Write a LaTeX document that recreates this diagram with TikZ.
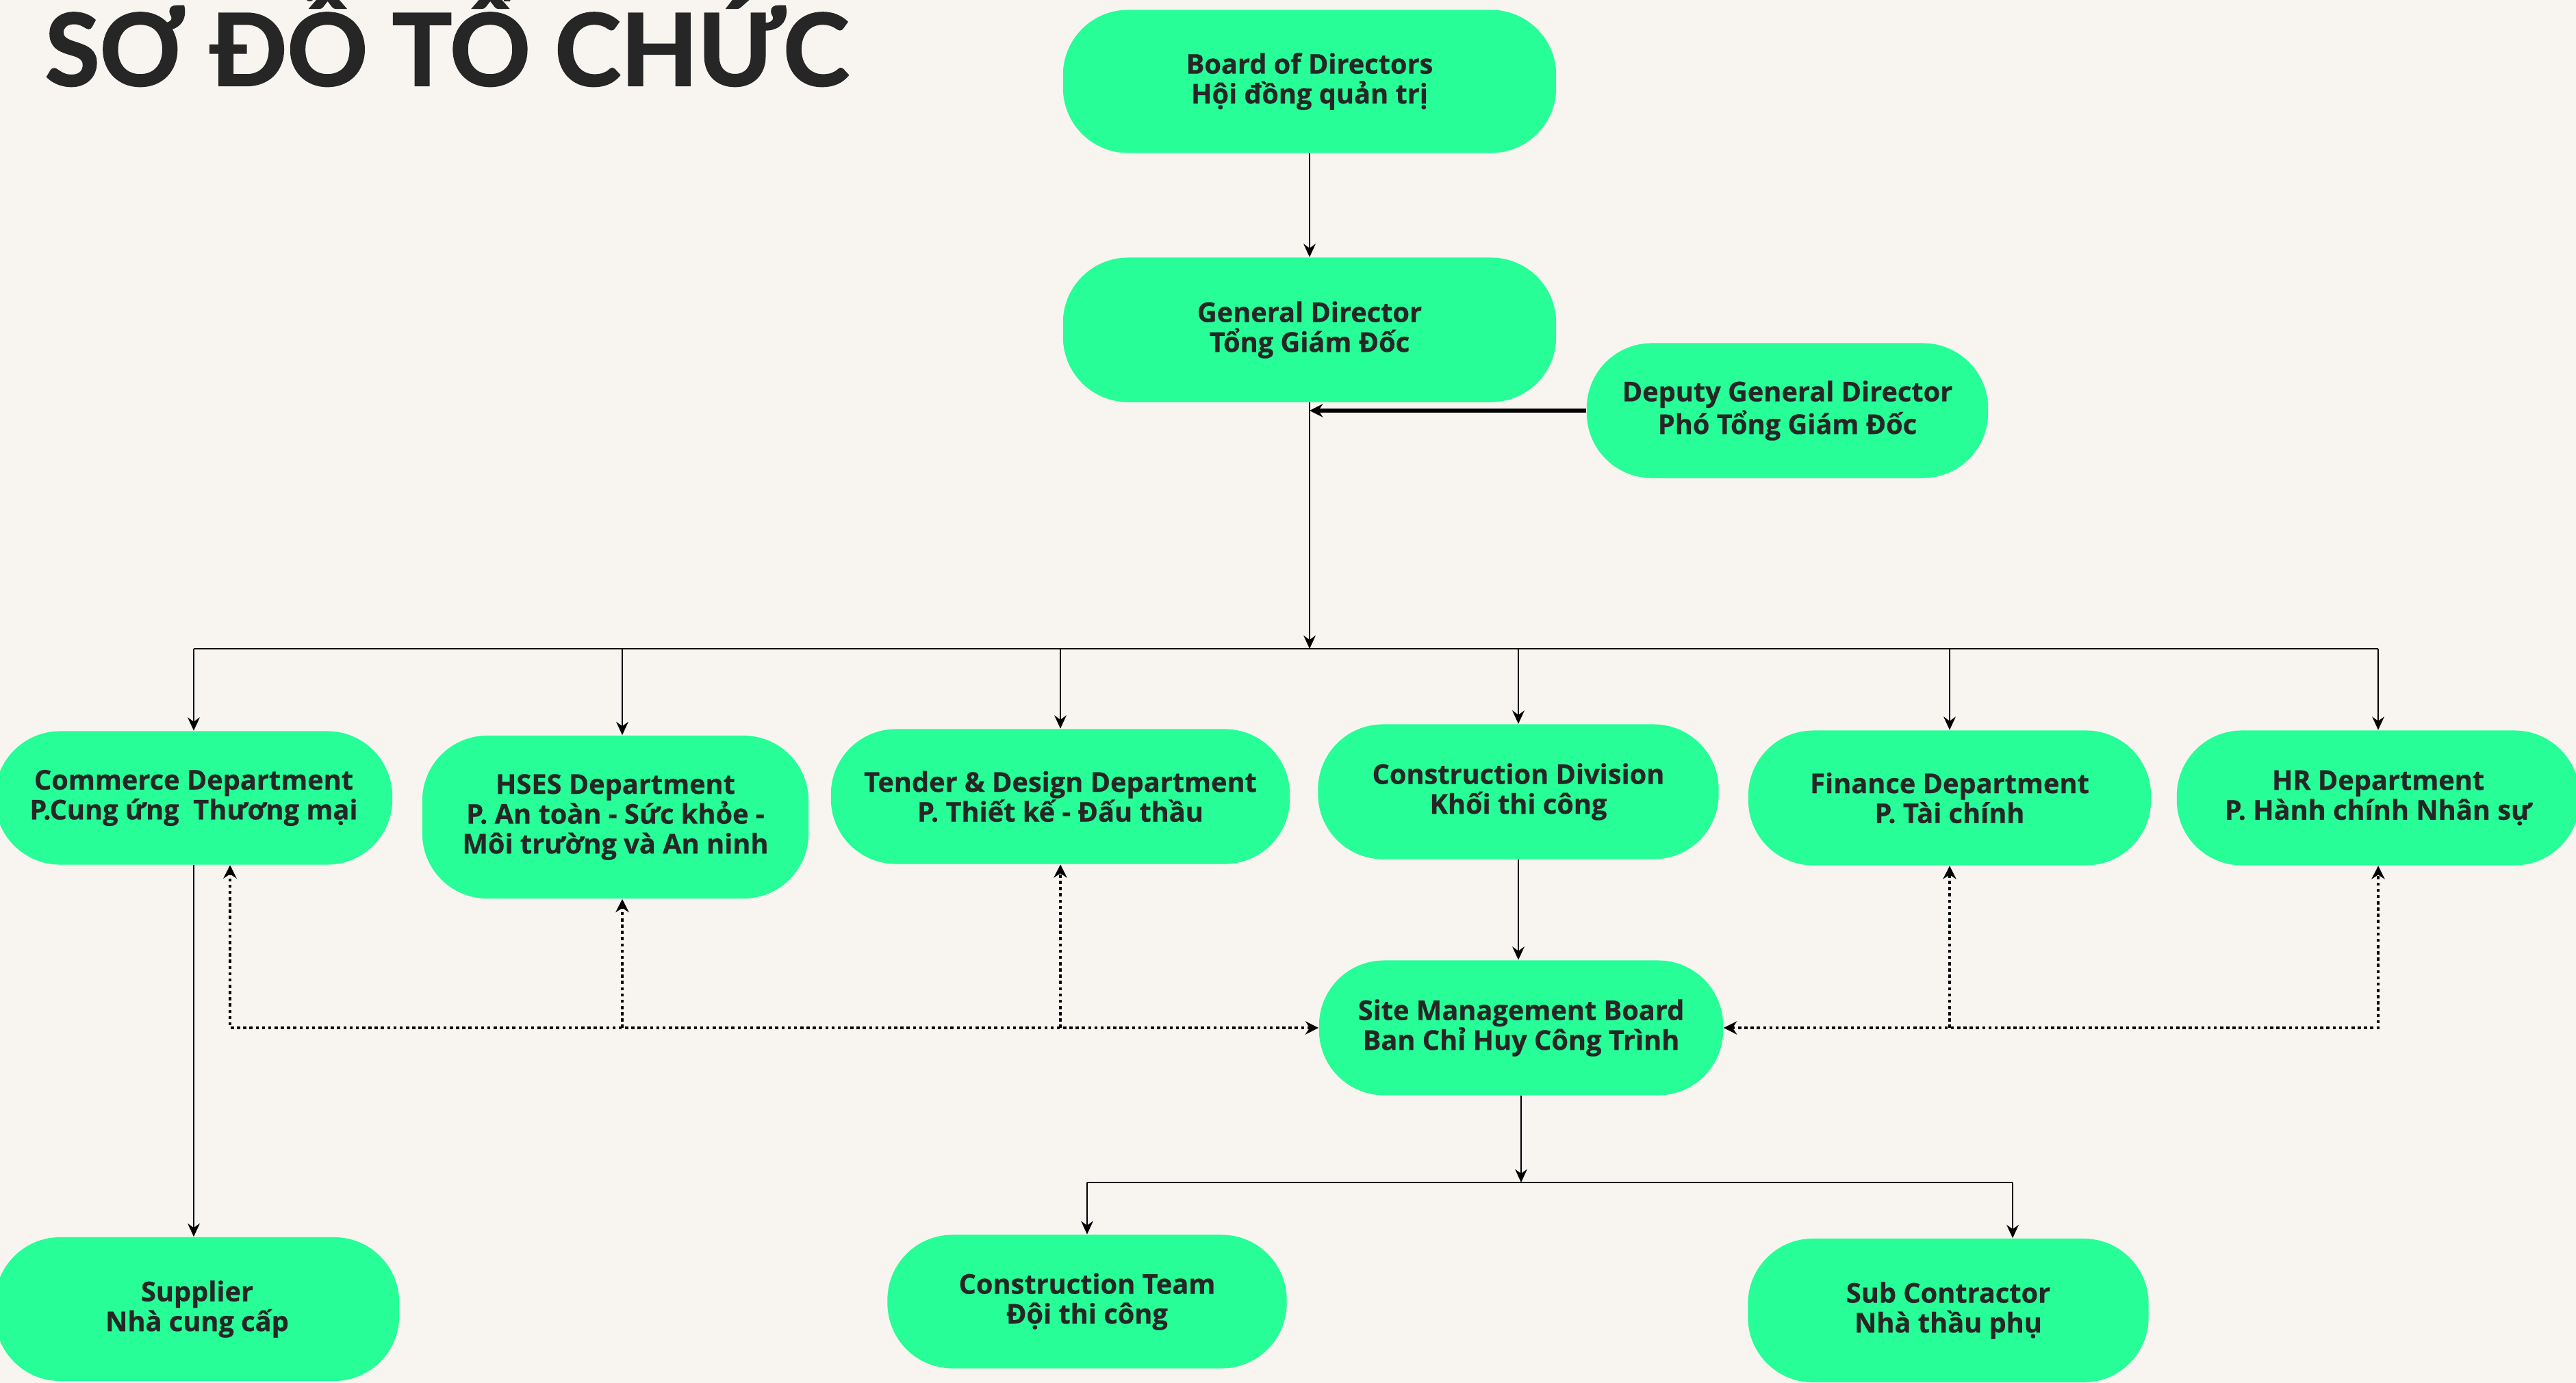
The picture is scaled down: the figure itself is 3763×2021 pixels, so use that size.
\documentclass[tikz,border=0pt]{standalone}
\usepackage{fontspec}
\setmainfont[BoldFeatures={FakeBold=0.6}]{Open Sans}
\newfontfamily\titlefont[BoldFeatures={FakeBold=1.6}]{Lato}
\usetikzlibrary{arrows.meta}
\definecolor{bgcol}{HTML}{F8F5F1}
\definecolor{boxgreen}{HTML}{27FE97}
\definecolor{inkcol}{HTML}{262626}
\tikzset{
  unit/.style={fill=boxgreen, rounded corners=0.95cm, minimum width=5.85cm,
    minimum height=1.97cm, align=center, inner sep=0pt, text=inkcol,
    font=\bfseries\fontsize{11.3}{12.4}\selectfont},
  solidlink/.style={line width=0.8pt, -{Stealth[length=5.5pt,width=5pt]}},
  thicklink/.style={line width=1.5pt, -{Stealth[length=5.5pt,width=5.5pt]}},
  dotlink/.style={line width=1.3pt, dash pattern=on 1.3pt off 1.3pt,
    {Stealth[length=5.5pt,width=5.5pt]}-{Stealth[length=5.5pt,width=5.5pt]}},
  dotup/.style={line width=1.3pt, dash pattern=on 1.3pt off 1.3pt,
    -{Stealth[length=5.5pt,width=5.5pt]}},
}
\begin{document}
\begin{tikzpicture}[x=0.01cm, y=-0.01cm]
  \fill[bgcol] (0,0) rectangle (3763,2021);
  \useasboundingbox (0,0) rectangle (3763,2021);
  \node[anchor=base west, inner sep=0pt, text=inkcol,
    font=\titlefont\bfseries\fontsize{41.5}{48}\selectfont] (title) at (65,125) {SƠ ĐỒ TỔ CHỨC};
  % top of the chart
  \node[unit, minimum width=7.2cm, minimum height=2.09cm] (board) at (1913,119) {Board of Directors\\Hội đồng quản trị};
  \node[unit, minimum width=7.2cm, minimum height=2.11cm] (gd) at (1913,482) {General Director\\Tổng Giám Đốc};
  \node[unit, minimum width=5.86cm] (dep) at (2611,600) {Deputy General Director\\Phó Tổng Giám Đốc};
  % departments
  \node[unit, minimum width=5.8cm, minimum height=1.95cm] (com) at (283,1166) {Commerce Department\\P.Cung ứng~ Thương mại};
  \node[unit, minimum width=5.64cm, minimum height=2.38cm] (hses) at (899,1194) {HSES Department\\P. An toàn - Sức khỏe -\\Môi trường và An ninh};
  \node[unit, minimum width=6.7cm] (tender) at (1549,1164) {Tender \& Design Department\\P. Thiết kế - Đấu thầu};
  \node[unit] (cdiv) at (2218,1157) {Construction Division\\Khối thi công};
  \node[unit, minimum width=5.88cm] (fin) at (2848,1166) {Finance Department\\P. Tài chính};
  \node[unit, minimum width=5.88cm] (hr) at (3474,1166) {HR Department\\P. Hành chính Nhân sự};
  % site level
  \node[unit, minimum width=5.9cm] (sm) at (2222,1502) {Site Management Board\\Ban Chỉ Huy Công Trình};
  \node[unit, minimum width=5.9cm, minimum height=2.1cm] (sup) at (288,1913) {Supplier\\Nhà cung cấp};
  \node[unit, minimum width=5.83cm, minimum height=1.95cm] (ct) at (1588,1902) {Construction Team\\Đội thi công};
  \node[unit, minimum height=2.1cm] (sub) at (2846,1915) {Sub Contractor\\Nhà thầu phụ};
  \coordinate (bus) at (1913,948);
  \coordinate (bus2) at (2222,1728);
  \coordinate (subtop) at ([xshift=0.94cm]sub.north);
  \coordinate (comdot) at ([xshift=0.53cm]com.south);
  \coordinate (hsestop) at ([xshift=0.1cm]hses.north);
  \begin{scope}[solidlink]
    \draw (board) to (gd);
    \draw (gd.south) to (bus);
    \draw[-] (bus -| com.north) -- (bus -| hr.north);
    \draw (bus -| com.north) to (com.north);
    \draw (bus -| hsestop) to (hsestop);
    \draw (bus -| tender.north) to (tender.north);
    \draw (bus -| cdiv.north) to (cdiv.north);
    \draw (bus -| fin.north) to (fin.north);
    \draw (bus -| hr.north) to (hr.north);
    \draw (com.south) to (com.south |- sup.north);
    \draw (cdiv.south) to (cdiv.south |- sm.north);
    \draw (sm.south) to (bus2);
    \draw[-] (bus2 -| ct.north) -- (bus2 -| subtop);
    \draw (bus2 -| ct.north) to (ct.north);
    \draw (bus2 -| subtop) to (subtop);
  \end{scope}
  \draw[thicklink] (dep.west) -- (dep.west -| gd.south);
  % dotted links to the site board
  \draw[dotlink] (sm.west) -| (comdot);
  \draw[dotup] (hsestop |- sm.west) -- (hsestop |- hses.south);
  \draw[dotup] (tender.south |- sm.west) -- (tender.south);
  \draw[dotlink] (sm.east) -| (hr.south);
  \draw[dotup] (fin.south |- sm.east) -- (fin.south);
\end{tikzpicture}
\end{document}
